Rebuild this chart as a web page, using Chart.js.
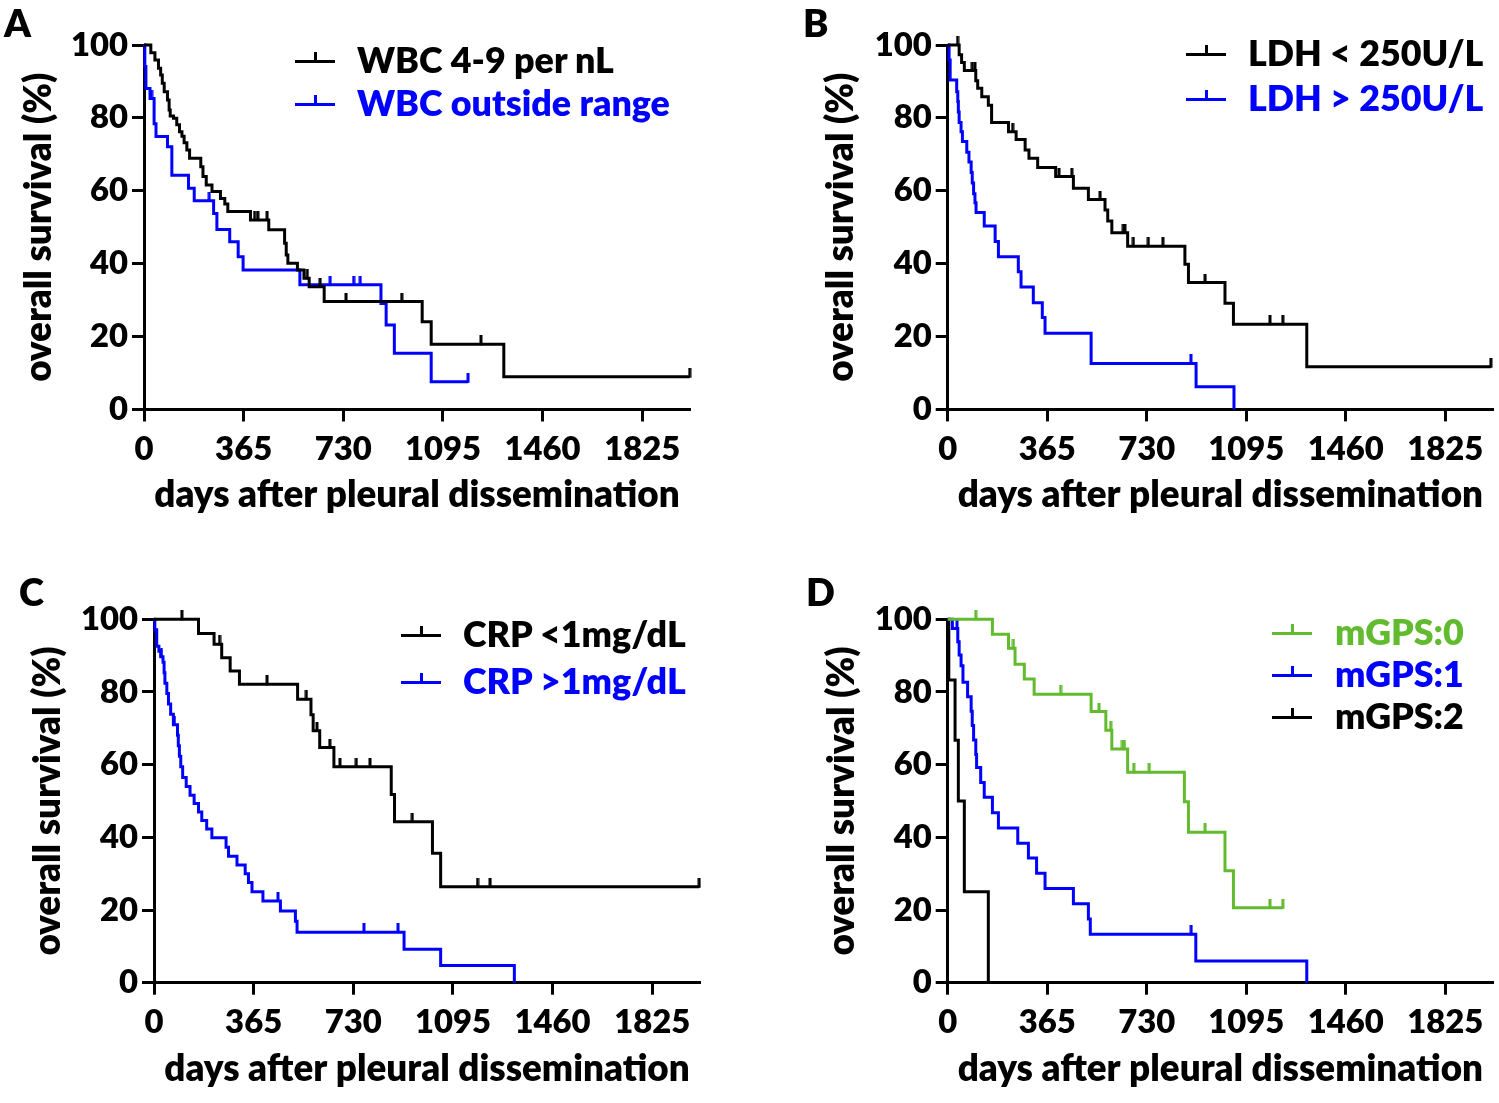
<!DOCTYPE html>
<html>
<head>
<meta charset="utf-8">
<script src="https://cdn.jsdelivr.net/npm/chart.js@4.4.1/dist/chart.umd.min.js"></script>
<style>
  html, body { margin: 0; padding: 0; background: #fff; }
  body { width: 1499px; height: 1103px; position: relative; overflow: hidden; font-family: Lato, "Open Sans", sans-serif; }
  canvas { position: absolute; }
  .letter { position: absolute; color: #000; }
  .leg { position: absolute; white-space: nowrap; }
  .legline { position: absolute; height: 3px; width: 40px; }
  .legtick { position: absolute; width: 3px; height: 9px; }
</style>
</head>
<body>
<script>
// ---------------- DATA ----------------
const xTickValues = [0, 365, 730, 1095, 1460, 1825];
const yTickValues = [0, 20, 40, 60, 80, 100];
const xAxisTitle = 'days after pleural dissemination';
const yAxisTitle = 'overall survival (%)';

// Panel A
const wbcNormalLabel = 'WBC 4-9 per nL';
const wbcNormalCurve = [[0,100],[25,97.9],[40,95.9],[53,93.6],[61,91.8],[67,89.5],[74,87.2],[86,84.9],[92,82.2],[96,80.5],[108,79.9],[120,78.1],[130,76.2],[139,75.0],[147,73.2],[157,71.2],[167,68.9],[208,66.6],[216,63.9],[228,61.6],[249,59.8],[280,57.9],[296,56.4],[307,54.3],[390,52.0],[457,49.3],[515,45.6],[521,42.4],[527,40.1],[562,38.3],[586,36.0],[605,33.7],[660,29.6],[1019,24.1],[1052,17.9],[1318,9.0],[1999,9.0]];
const wbcNormalCensor = [405, 417, 451, 598, 645, 740, 944, 1234, 1999];
const wbcOutsideLabel = 'WBC outside range';
const wbcOutsideCurve = [[0,100],[3,94.1],[7,88.1],[22,85.3],[37,78.4],[44,74.9],[86,72.1],[102,64.3],[163,60.7],[184,57.3],[255,53.8],[267,49.4],[314,46.0],[345,41.9],[363,38.3],[571,34.2],[868,29.1],[887,23.2],[917,15.4],[1052,7.6],[1187,7.6]];
const wbcOutsideCensor = [28, 239, 682, 768, 792, 1187];

// Panel B
const ldhLowLabel = 'LDH < 250U/L';
const ldhLowCurve = [[0,100],[42,97.3],[51,95.2],[61,93.0],[103,90.2],[110,88.1],[125,85.8],[149,83.5],[161,78.7],[223,76.2],[251,74.1],[284,71.2],[298,68.9],[330,66.4],[396,63.9],[461,60.7],[516,57.6],[577,54.7],[587,51.7],[602,48.5],[660,44.8],[870,39.8],[883,34.8],[1017,29.1],[1048,23.4],[1317,11.7],[1992,11.7]];
const ldhLowCensor = [36, 90, 100, 238, 408, 455, 559, 644, 650, 681, 736, 789, 944, 1182, 1229, 1992];
const ldhHighLabel = 'LDH > 250U/L';
const ldhHighCurve = [[0,100],[5,95.9],[9,90.4],[33,87.2],[37,84.5],[39,81.6],[42,78.7],[49,76.2],[54,73.5],[70,70.6],[78,67.9],[86,65.0],[90,62.1],[95,59.2],[100,56.7],[104,54.0],[134,50.3],[174,46.1],[186,41.9],[259,37.8],[269,33.6],[314,29.3],[347,25.2],[357,20.9],[526,12.6],[911,6.2],[1050,0]];
const ldhHighCensor = [892];

// Panel C
const crpLowLabel = 'CRP <1mg/dL';
const crpLowCurve = [[0,100],[163,96.1],[220,93.1],[248,89.4],[279,85.8],[313,82.1],[526,78.0],[575,73.7],[583,69.3],[607,64.7],[659,59.4],[869,51.8],[881,44.3],[1020,35.6],[1050,26.4],[1997,26.4]];
const crpLowCensor = [102, 240, 414, 558, 597, 644, 681, 741, 791, 946, 1185, 1231, 1997];
const crpHighLabel = 'CRP >1mg/dL';
const crpHighCurve = [[0,100],[3,97.1],[10,92.6],[18,91.2],[25,89.7],[33,88.2],[37,85.3],[40,82.4],[47,79.6],[53,76.7],[61,73.9],[71,71.0],[86,68.1],[89,65.2],[93,62.3],[98,59.4],[105,56.5],[118,54.0],[132,51.6],[147,49.3],[163,47.0],[175,44.6],[193,42.3],[212,39.9],[264,37.3],[273,34.8],[304,32.4],[334,30.0],[346,27.6],[359,25.0],[399,22.5],[463,19.7],[518,16.9],[524,13.9],[916,9.2],[1050,4.7],[1320,0]];
const crpHighCensor = [27, 75, 454, 769, 894];

// Panel D
const gps0Label = 'mGPS:0';
const gps0Curve = [[0,100],[164,95.9],[223,92.0],[247,87.6],[281,83.6],[317,79.4],[526,74.6],[580,69.5],[602,64.3],[660,57.9],[868,49.8],[883,41.4],[1017,30.8],[1048,20.6],[1229,20.6]];
const gps0Censor = [103, 241, 414, 555, 598, 641, 648, 682, 739, 944, 1182, 1229];
const gps1Label = 'mGPS:1';
const gps1Curve = [[0,100],[17,97.5],[37,93.8],[42,90.2],[49,87.2],[56,82.7],[73,78.7],[86,74.7],[90,70.8],[95,66.8],[103,62.8],[106,59.2],[121,55.1],[134,51.0],[164,46.8],[186,42.6],[257,38.4],[296,34.3],[326,30.1],[357,25.9],[461,21.7],[516,17.5],[523,13.3],[910,6.0],[1317,0]];
const gps1Censor = [34, 893];
const gps2Label = 'mGPS:2';
const gps2Curve = [[0,100],[4,83.3],[27,66.7],[39,50.0],[61,25.0],[149,0]];
const gps2Censor = [];

// ---------------- STYLE / LAYOUT ----------------
const BLACK = '#000000', BLUE = '#0000ff', GREEN = '#62bb2e';
const FONT = 'Lato';
const WEIGHT = 800;

const panels = [
  { letter: 'A', letterPos: [4, 3], canvas: [0, 0, 750, 550], area: [144, 45, 690, 409.5], yTitleCenter: 39, xTitleMiddle: 495,
    legend: { lineX: 295, textX: 357, ys: [61, 104] },
    series: [
      { label: wbcNormalLabel, curve: wbcNormalCurve, censor: wbcNormalCensor, color: BLACK },
      { label: wbcOutsideLabel, curve: wbcOutsideCurve, censor: wbcOutsideCensor, color: BLUE } ] },
  { letter: 'B', letterPos: [803, 3], canvas: [750, 0, 749, 550], area: [947.7, 45, 1493, 409.4], yTitleCenter: 841, xTitleMiddle: 495,
    legend: { lineX: 1186, textX: 1248, ys: [54, 99] },
    series: [
      { label: ldhLowLabel, curve: ldhLowCurve, censor: ldhLowCensor, color: BLACK },
      { label: ldhHighLabel, curve: ldhHighCurve, censor: ldhHighCensor, color: BLUE } ] },
  { letter: 'C', letterPos: [19, 572], canvas: [0, 550, 750, 553], area: [154, 619.3, 700, 982.7], yTitleCenter: 48, xTitleMiddle: 1069,
    legend: { lineX: 401, textX: 463, ys: [635, 682] },
    series: [
      { label: crpLowLabel, curve: crpLowCurve, censor: crpLowCensor, color: BLACK },
      { label: crpHighLabel, curve: crpHighCurve, censor: crpHighCensor, color: BLUE } ] },
  { letter: 'D', letterPos: [806, 572], canvas: [750, 550, 749, 553], area: [947.7, 619.3, 1493.3, 982.7], yTitleCenter: 842, xTitleMiddle: 1069,
    legend: { lineX: 1272, textX: 1335, ys: [633, 675, 717] },
    series: [
      { label: gps0Label, curve: gps0Curve, censor: gps0Censor, color: GREEN },
      { label: gps1Label, curve: gps1Curve, censor: gps1Censor, color: BLUE },
      { label: gps2Label, curve: gps2Curve, censor: gps2Censor, color: BLACK } ] }
];

function fitSize(text, target) {
  const g = document.createElement('canvas').getContext('2d');
  g.font = WEIGHT + ' 100px ' + FONT;
  const w = g.measureText(text).width;
  return Math.round(100 * target / w * 10) / 10;
}

function survAt(curve, t) {
  let v = curve[0][1];
  for (const [d, s] of curve) { if (d <= t) v = s; else break; }
  return v;
}

const tickCache = {};
function censorMark(color) {
  if (tickCache[color]) return tickCache[color];
  const h = 9;
  const c = document.createElement('canvas');
  c.width = 4; c.height = h * 2;
  const g = c.getContext('2d');
  g.fillStyle = color;
  g.fillRect(0.5, 0, 3, h + 1);
  tickCache[color] = c;
  return c;
}

function build() {
  const tickSize = fitSize('1095', 76);
  const titleSize = fitSize(xAxisTitle, 526);
  const legSize = fitSize(wbcOutsideLabel, 313);
  const letterSize = 38;
  const TICK_FONT = { family: FONT, size: tickSize, weight: WEIGHT, lineHeight: 1.2 };
  const TITLE_FONT = { family: FONT, size: titleSize, weight: WEIGHT, lineHeight: 1.2 };

  for (const p of panels) {
    const [cx, cy, cw, ch] = p.canvas;
    const [L, T, R, B] = p.area;
    const cv = document.createElement('canvas');
    cv.width = cw; cv.height = ch;
    cv.style.left = cx + 'px'; cv.style.top = cy + 'px';
    cv.style.width = cw + 'px'; cv.style.height = ch + 'px';
    document.body.appendChild(cv);

    const yW = L - cx;
    const xH = (cy + ch) - B;
    const padTop = T - cy;
    const padRight = (cx + cw) - R;
    const yTitlePad = (p.yTitleCenter - cx) - TITLE_FONT.size * TITLE_FONT.lineHeight / 2;
    const xTitlePad = (cy + ch - p.xTitleMiddle) - TITLE_FONT.size * TITLE_FONT.lineHeight / 2;

    const datasets = [];
    p.series.forEach(s => {
      datasets.push({
        label: s.label,
        data: s.curve.map(([x, y]) => ({ x, y })),
        borderColor: s.color, backgroundColor: s.color,
        borderWidth: 3, stepped: 'before', pointRadius: 0, fill: false, clip: false,
        borderJoinStyle: 'miter', borderCapStyle: 'butt'
      });
      datasets.push({
        label: s.label + ' censored',
        data: s.censor.map(t => ({ x: t, y: survAt(s.curve, t) })),
        showLine: false, pointStyle: censorMark(s.color), pointRadius: 5,
        borderColor: s.color, backgroundColor: s.color, clip: false
      });
    });

    new Chart(cv, {
      type: 'line',
      data: { datasets },
      options: {
        responsive: false, animation: false, devicePixelRatio: 1,
        layout: { padding: { top: padTop, right: padRight, bottom: 0, left: 0 } },
        plugins: { legend: { display: false }, tooltip: { enabled: false } },
        events: [],
        scales: {
          x: {
            type: 'linear', min: 0, max: 2000,
            afterBuildTicks: sc => { sc.ticks = xTickValues.map(v => ({ value: v })); },
            afterFit: sc => { sc.height = xH; },
            ticks: { autoSkip: false, maxRotation: 0, minRotation: 0, padding: 8, font: TICK_FONT, color: '#000', callback: v => String(v) },
            grid: { drawOnChartArea: false, drawTicks: true, tickLength: 12, tickWidth: 3, tickColor: '#000', color: '#000' },
            border: { display: true, color: '#000', width: 3 },
            title: { display: true, text: xAxisTitle, color: '#000', font: TITLE_FONT, padding: { top: 0, bottom: xTitlePad } }
          },
          y: {
            min: 0, max: 100,
            afterBuildTicks: sc => { sc.ticks = yTickValues.map(v => ({ value: v })); },
            afterFit: sc => { sc.width = yW; },
            ticks: { padding: 4, font: TICK_FONT, color: '#000', callback: v => String(v) },
            grid: { drawOnChartArea: false, drawTicks: true, tickLength: 12, tickWidth: 3, tickColor: '#000', color: '#000' },
            border: { display: true, color: '#000', width: 3 },
            title: { display: true, text: yAxisTitle, color: '#000', font: TITLE_FONT, padding: { top: yTitlePad, bottom: 0 } }
          }
        }
      }
    });

    // panel letter
    const lt = document.createElement('div');
    lt.className = 'letter';
    lt.style.font = WEIGHT + ' ' + letterSize + 'px ' + FONT;
    lt.style.lineHeight = letterSize + 'px';
    lt.textContent = p.letter;
    lt.style.left = p.letterPos[0] + 'px'; lt.style.top = p.letterPos[1] + 'px';
    document.body.appendChild(lt);

    // legend
    p.series.forEach((s, i) => {
      const y = p.legend.ys[i];
      const line = document.createElement('div');
      line.className = 'legline';
      line.style.background = s.color;
      line.style.left = p.legend.lineX + 'px';
      line.style.top = (y - 1.5) + 'px';
      document.body.appendChild(line);
      const tk = document.createElement('div');
      tk.className = 'legtick';
      tk.style.background = s.color;
      tk.style.left = (p.legend.lineX + 18.5) + 'px';
      tk.style.top = (y - 9) + 'px';
      document.body.appendChild(tk);
      const tx = document.createElement('div');
      tx.className = 'leg';
      tx.style.font = WEIGHT + ' ' + legSize + 'px ' + FONT;
      tx.style.lineHeight = legSize + 'px';
      tx.style.color = s.color;
      tx.style.left = p.legend.textX + 'px';
      tx.style.top = (y - legSize * 0.53) + 'px';
      tx.textContent = s.label;
      document.body.appendChild(tx);
    });
  }
}

const fontReady = document.fonts && document.fonts.load
  ? Promise.all([document.fonts.load(WEIGHT + ' 32px Lato'), document.fonts.load('bold 32px Lato')]).catch(() => {})
  : Promise.resolve();
fontReady.then(build, build);
</script>
</body>
</html>
